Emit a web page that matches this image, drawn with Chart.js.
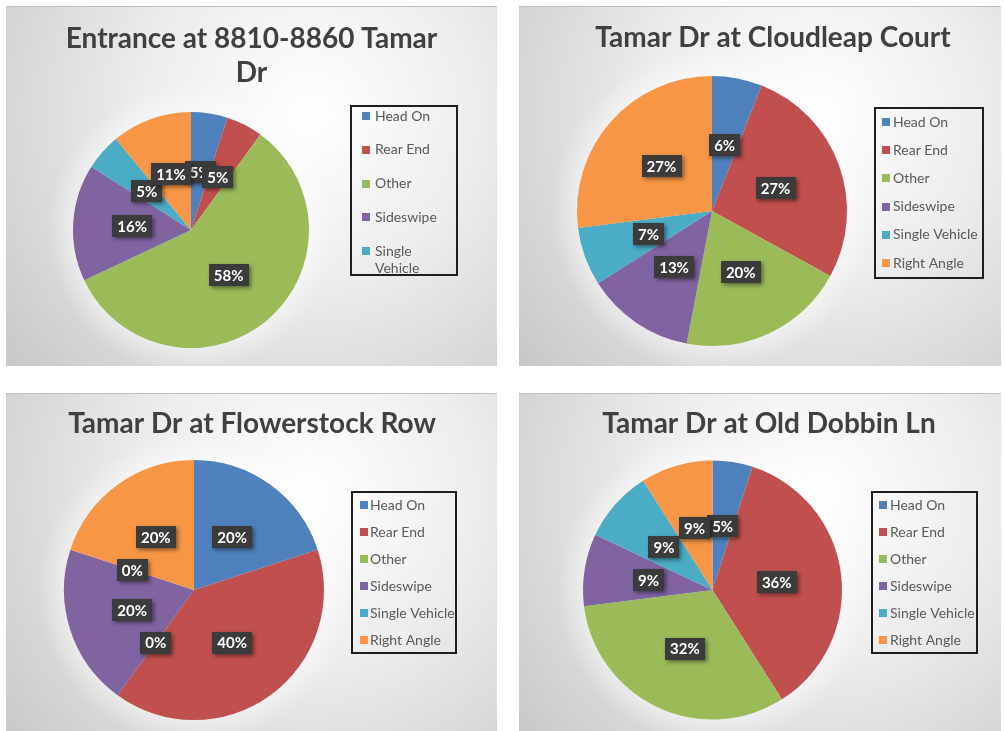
<!DOCTYPE html>
<html><head><meta charset="utf-8">
<script src="https://cdn.jsdelivr.net/npm/chart.js@4"></script>
<style>
html,body{margin:0;padding:0;background:#fff;width:1005px;height:731px;overflow:hidden}
.panel{position:absolute}
canvas{display:block}
</style></head><body>
<div class="panel" style="left:6px;top:6px;width:491px;height:360px"><canvas id="c1"></canvas></div>
<div class="panel" style="left:519px;top:6px;width:482px;height:360px"><canvas id="c2"></canvas></div>
<div class="panel" style="left:6px;top:393px;width:491px;height:338px"><canvas id="c3"></canvas></div>
<div class="panel" style="left:519px;top:393px;width:482px;height:338px"><canvas id="c4"></canvas></div>
<script>
// ---- data ----
const categories = ['Head On', 'Rear End', 'Other', 'Sideswipe', 'Single Vehicle', 'Right Angle'];
const entranceValues = [5, 5, 58, 16, 5, 11];
const cloudleapValues = [6, 27, 20, 13, 7, 27];
const flowerstockValues = [20, 40, 0, 20, 0, 20];
const oldDobbinValues = [5, 36, 32, 9, 9, 9];
const chartTitles = [
  ['Entrance at 8810-8860 Tamar', 'Dr'],
  ['Tamar Dr at Cloudleap Court'],
  ['Tamar Dr at Flowerstock Row'],
  ['Tamar Dr at Old Dobbin Ln']
];
const sliceColors = ['#4F81BD', '#C0504D', '#9BBB59', '#8064A2', '#4BACC6', '#F79646'];

const FONT = 'Lato, "Open Sans", sans-serif';

const decor = {
  id: 'decor',
  beforeDraw(chart, args, o) {
    const {ctx, width: w, height: h} = chart;
    ctx.save();
    const g = ctx.createRadialGradient(w * 0.62, h * 0.3, 0, w * 0.62, h * 0.3, w * 0.85);
    g.addColorStop(0, '#ffffff');
    g.addColorStop(0.4, '#ededed');
    g.addColorStop(1, '#c4c4c4');
    ctx.fillStyle = g;
    ctx.fillRect(0, 0, w, h);
    const arc = chart.getDatasetMeta(0).data[0];
    if (arc) {
      const R = arc.outerRadius, cx = arc.x, cy = arc.y;
      const gg = ctx.createRadialGradient(cx, cy, R * 0.97, cx, cy, R + 26);
      gg.addColorStop(0, 'rgba(255,255,255,0.5)');
      gg.addColorStop(1, 'rgba(255,255,255,0)');
      ctx.fillStyle = gg;
      ctx.beginPath(); ctx.arc(cx, cy, R + 26, 0, Math.PI * 2); ctx.fill();
    }
    ctx.fillStyle = '#bdbdbd';
    ctx.fillRect(0, 0, w, 1);
    // title
    ctx.fillStyle = '#404040';
    ctx.font = `bold ${o.titleSize}px ${FONT}`;
    ctx.textAlign = 'center';
    ctx.textBaseline = 'alphabetic';
    o.title.forEach((line, i) => ctx.fillText(line, o.titleX, o.titleY + i * o.titleGap));
    ctx.restore();
  },
  afterDatasetsDraw(chart, args, o) {
    const {ctx} = chart;
    const meta = chart.getDatasetMeta(0);
    const vals = chart.data.datasets[0].data;
    ctx.save();
    ctx.font = `bold 15px ${FONT}`;
    ctx.textAlign = 'center';
    ctx.textBaseline = 'middle';
    meta.data.forEach((arc, i) => {
      const p = arc.tooltipPosition();
      const txt = vals[i] + '%';
      const tw = ctx.measureText(txt).width;
      const bw = tw + 10, bh = 22;
      ctx.shadowColor = 'rgba(0,0,0,0.45)';
      ctx.shadowBlur = 4; ctx.shadowOffsetX = 2; ctx.shadowOffsetY = 2;
      ctx.fillStyle = '#3b3b3b';
      ctx.fillRect(Math.round(p.x - bw / 2), Math.round(p.y - bh / 2), Math.round(bw), bh);
      ctx.shadowColor = 'transparent'; ctx.shadowBlur = 0; ctx.shadowOffsetX = 0; ctx.shadowOffsetY = 0;
      ctx.fillStyle = '#ffffff';
      ctx.fillText(txt, p.x, p.y + 1);
    });
    ctx.restore();
  },
  afterDraw(chart, args, o) {
    const {ctx} = chart;
    const L = o.legend;
    const labels = chart.data.labels;
    const colors = chart.data.datasets[0].backgroundColor;
    ctx.save();
    ctx.lineWidth = 2;
    ctx.strokeStyle = '#1e1e1e';
    ctx.strokeRect(L.x, L.y, L.w, L.h);
    ctx.font = `14px ${FONT}`;
    ctx.textAlign = 'left';
    ctx.textBaseline = 'middle';
    const n = Math.min(L.maxItems, labels.length);
    for (let i = 0; i < n; i++) {
      const y = L.first + i * L.spacing;
      ctx.fillStyle = colors[i];
      ctx.fillRect(L.sq, Math.round(y - 4), 8, 8);
      ctx.fillStyle = '#595959';
      const text = labels[i];
      if (ctx.measureText(text).width > L.wrapWidth) {
        const words = text.split(' ');
        ctx.fillText(words[0], L.tx, y);
        ctx.fillText(words.slice(1).join(' '), L.tx, y + 17);
      } else {
        ctx.fillText(text, L.tx, y);
      }
    }
    ctx.restore();
  }
};

function makeChart(id, values, title, padding, deco) {
  return new Chart(document.getElementById(id), {
    type: 'pie',
    data: {
      labels: categories,
      datasets: [{data: values, backgroundColor: sliceColors, borderWidth: 0}]
    },
    options: {
      responsive: true,
      maintainAspectRatio: false,
      animation: false,
      layout: {padding: padding},
      plugins: {
        legend: {display: false},
        tooltip: {enabled: false},
        decor: Object.assign({title: title}, deco)
      }
    },
    plugins: [decor]
  });
}

makeChart('c1', entranceValues, chartTitles[0],
  {left: 67, top: 106, right: 188, bottom: 18},
  {titleSize: 28, titleX: 245.5, titleY: 42, titleGap: 34,
   legend: {x: 345, y: 100, w: 106, h: 169, sq: 356, tx: 369, first: 110, spacing: 33.8, maxItems: 5, wrapWidth: 70}});
makeChart('c2', cloudleapValues, chartTitles[1],
  {left: 58, top: 70, right: 154, bottom: 20},
  {titleSize: 28, titleX: 254, titleY: 41, titleGap: 34,
   legend: {x: 356, y: 102, w: 108, h: 170, sq: 363, tx: 374, first: 116, spacing: 28.2, maxItems: 6, wrapWidth: 200}});
makeChart('c3', flowerstockValues, chartTitles[2],
  {left: 58, top: 67, right: 173, bottom: 11},
  {titleSize: 28, titleX: 246, titleY: 40, titleGap: 34,
   legend: {x: 346, y: 99, w: 104, h: 161, sq: 354, tx: 364, first: 112, spacing: 27, maxItems: 6, wrapWidth: 200}});
makeChart('c4', oldDobbinValues, chartTitles[3],
  {left: 64, top: 67, right: 159, bottom: 11},
  {titleSize: 28, titleX: 250, titleY: 40, titleGap: 34,
   legend: {x: 353, y: 99, w: 105, h: 161, sq: 360, tx: 371, first: 112, spacing: 27, maxItems: 6, wrapWidth: 200}});
</script>
</body></html>
